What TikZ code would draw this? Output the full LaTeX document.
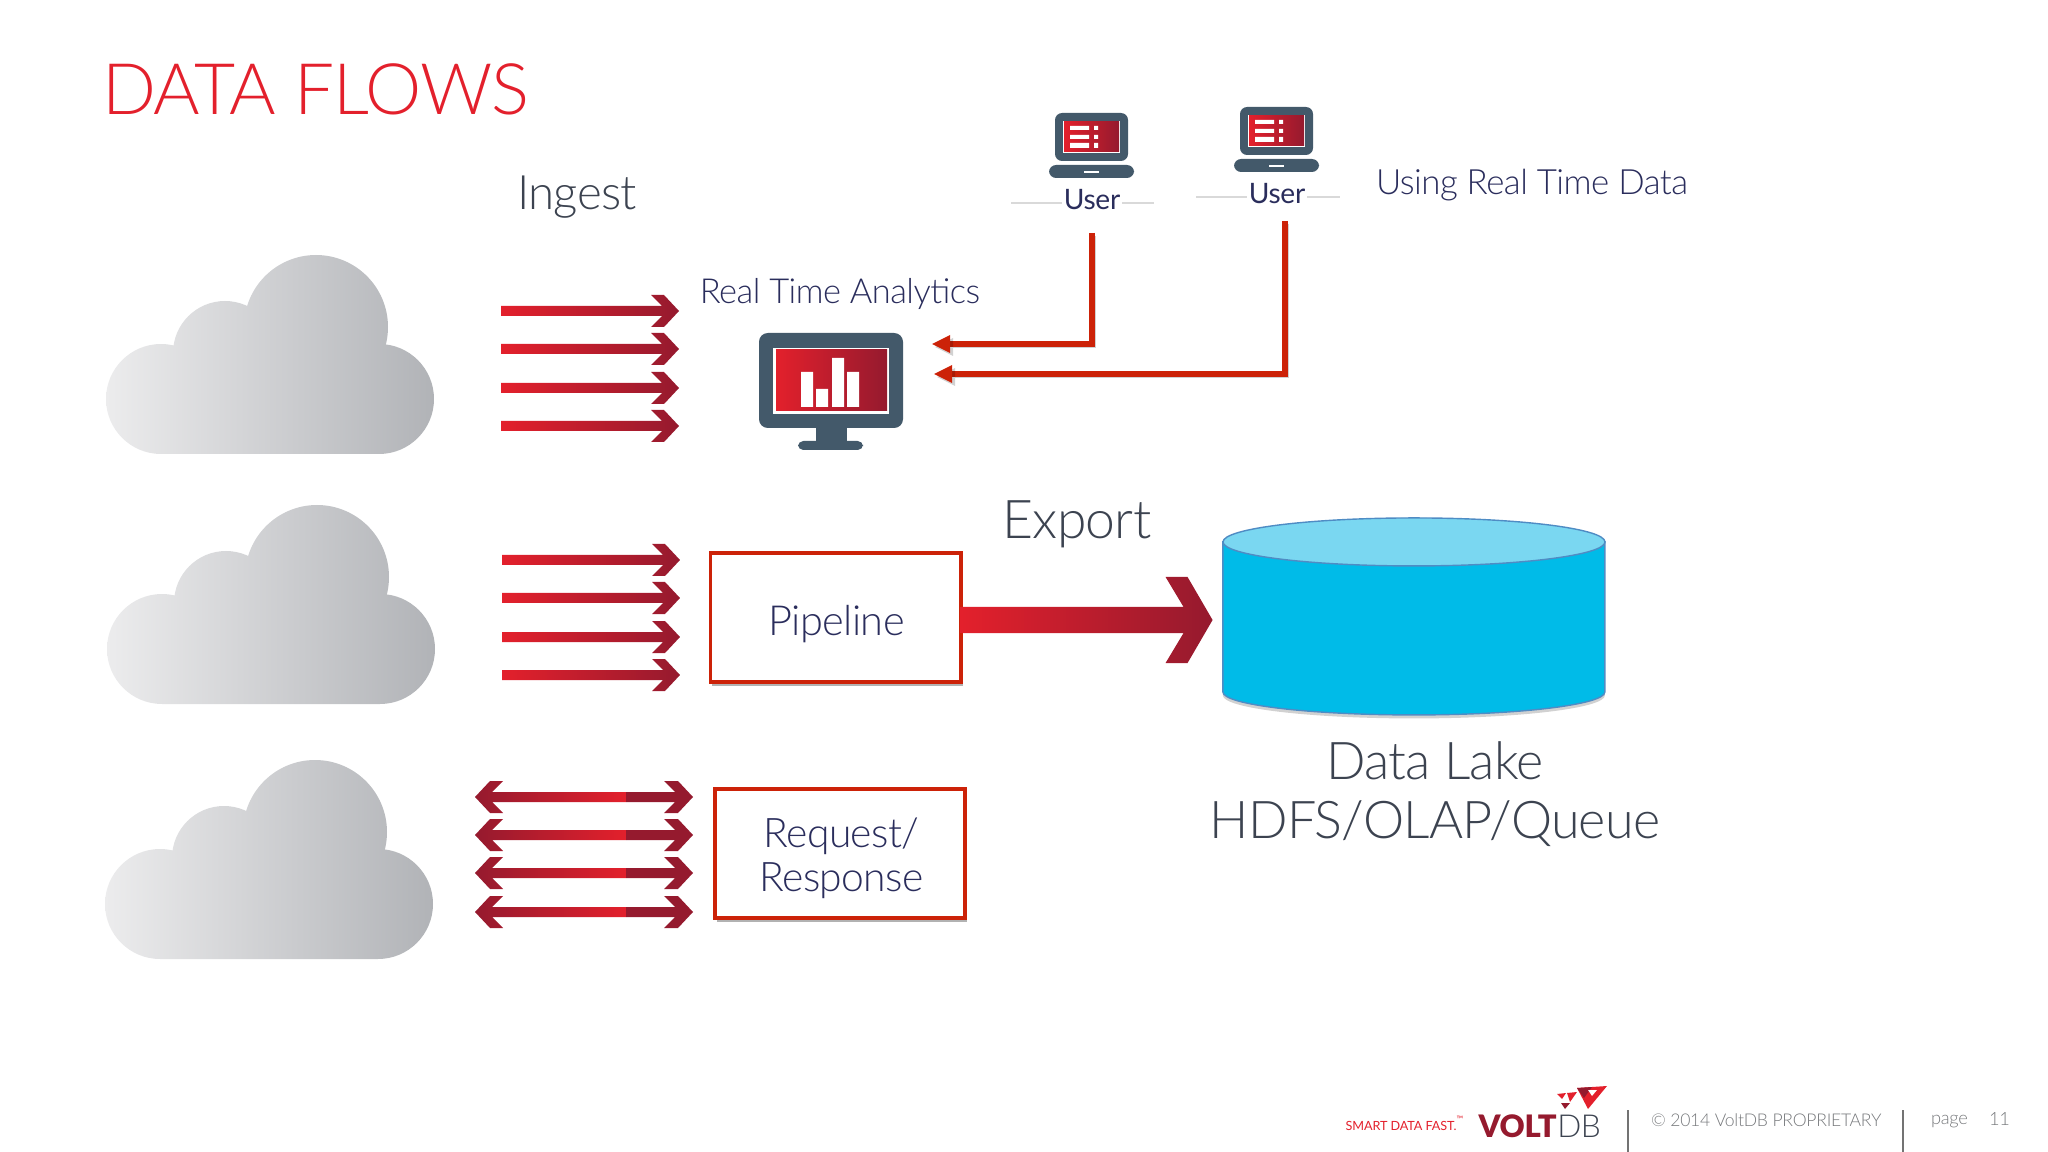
\documentclass[tikz,border=0pt]{standalone}
\usepackage{fontspec}
\setmainfont{Lato}[LetterSpace=-1.0]
\newfontfamily\latolight{Lato Light}[LetterSpace=-1.5]
\newfontfamily\latoblack{Lato Black}[LetterSpace=-1.0]
\usetikzlibrary{positioning, calc, shadows}
\definecolor{voltred}{HTML}{E3202C}
\definecolor{voltdark}{HTML}{951A2E}
\definecolor{boxred}{HTML}{CC2208}
\definecolor{slate}{HTML}{43596A}
\definecolor{navy}{HTML}{2A2D5C}
\definecolor{inkgray}{HTML}{3C4350}
\definecolor{footgray}{HTML}{77797C}
\definecolor{cloudl}{HTML}{ECECED}
\definecolor{cloudm}{HTML}{C8CBD0}
\definecolor{cloudr}{HTML}{B1B3B7}
\definecolor{lakebody}{HTML}{00BBE8}
\definecolor{laketop}{HTML}{7AD7F1}
\definecolor{lakeedge}{HTML}{4F8CC4}
\tikzset{
  px/.style={font=\latolight\fontsize{#1}{#1}\selectfont, text=navy, inner sep=0pt, outer sep=0pt},
  redbox/.style={draw=boxred, line width=1.1pt, fill=white, inner sep=0pt, align=center,
    drop shadow={shadow xshift=0.02cm, shadow yshift=-0.04cm, opacity=.3, fill=black}},
  userline/.style={draw=boxred, line width=1.5pt, preaction={draw=black, opacity=.18, transform canvas={xshift=0.03cm, yshift=-0.03cm}}},
  usertip/.style={fill=boxred, draw=none, preaction={fill=black, opacity=.18, transform canvas={xshift=0.03cm, yshift=-0.03cm}}},
  usertext/.style={font=\fontsize{8}{8}\selectfont, text=navy, fill=white, inner sep=0.5pt, anchor=base},
  cloudy/.pic={
    \shade[left color=cloudl, middle color=cloudm, right color=cloudr]
      (55,144) circle[radius=55] (273,144) circle[radius=55] (210,72) circle[radius=72] (119,98) circle[radius=52]
      (55,144) -- (119,98) -- (210,72) -- (273,144) -- (273,199) -- (55,199) -- cycle;
  },
  fwd/.pic={
    \shade[left color=voltred, right color=voltdark]
      (0,-5) -- (161,-5) -- (150,-16) -- (163,-16) -- (178,0) -- (163,16) -- (150,16) -- (161,5) -- (0,5) -- cycle;
  },
  both/.pic={
    \shade[left color=voltdark, right color=voltred]
      (0,0) -- (15,-16) -- (28,-16) -- (17,-5) -- (151,-5) -- (151,5) -- (17,5) -- (28,16) -- (15,16) -- cycle;
    \fill[voltdark] (151,-5) -- (200,-5) -- (189,-16) -- (203,-16) -- (218,0) -- (203,16) -- (189,16) -- (200,5) -- (151,5) -- cycle;
  },
  laptop/.pic={
    \fill[slate, rounded corners=2pt] (-37,-39) rectangle (36,9);
    \fill[white] (-29,-31) rectangle (28,1);
    \shade[left color=voltred, right color=voltdark] (-28,-30) rectangle (27,0);
    \fill[white] (-22,-26) rectangle (-3,-22) (2,-26) rectangle (6,-22);
    \fill[white] (-22,-17) rectangle (-3,-13) (2,-17) rectangle (6,-13);
    \fill[white] (-22,-9) rectangle (-3,-4) (2,-9) rectangle (6,-4);
    \fill[slate, rounded corners=2pt] (-43,13) rectangle (42,26);
    \fill[white] (-8,19) rectangle (7,21);
  },
}
\begin{document}
\begin{tikzpicture}[x=0.01cm, y=-0.01cm]
\useasboundingbox (0,0) rectangle (2048,1152);
\node[px=20.2, text=voltred, anchor=base west] (title) at (102,115) {DATA FLOWS};
\node[px=13.5, text=inkgray, anchor=base] (ingest) at (577,210) {Ingest};
\node[px=9.8, anchor=base] (analytics) at (840,304) {Real Time Analytics};
\node[px=9.9, anchor=base west] (using) at (1376,195) {Using Real Time Data};
\node[px=15.2, text=inkgray, anchor=base] (export) at (1077,538) {Export};
% clouds
\pic (cloud one) at (106,255) {cloudy};
\pic (cloud two) at (107,505) {cloudy};
\pic (cloud three) at (105,760) {cloudy};
% ingest
\pic at (501,311) {fwd};
\pic at (501,349) {fwd};
\pic at (501,388) {fwd};
\pic at (501,426) {fwd};
\pic at (502,560) {fwd};
\pic at (502,598) {fwd};
\pic at (502,637) {fwd};
\pic at (502,675) {fwd};
\pic at (475,797) {both};
\pic at (475,835) {both};
\pic at (475,873) {both};
\pic at (475,912) {both};
% monitor
\fill[slate, rounded corners=2.5pt] (759,333) rectangle (903,428);
\fill[slate] (816,428) rectangle (847,443);
\fill[slate, rounded corners=1.5pt] (798,441) rectangle (863,450);
\fill[white] (773,348) rectangle (889,414);
\shade[left color=voltred, right color=voltdark] (776,350) rectangle (887,411);
\fill[white] (801,372) rectangle (813,407) (816,389) rectangle (828,407) (832,358) rectangle (844,407) (847,372) rectangle (859,407);
\coordinate (screen a) at (950,344);
\coordinate (screen b) at (952,374);
% users
\pic at (1092,152) {laptop};
\pic at (1277,146) {laptop};
\draw[black!15, line width=0.3pt] (1011,203) -- (1154,203) (1196,197) -- (1340,197);
\node[usertext] (user one) at (1092,210) {User};
\node[usertext] (user two) at (1277,204) {User};
\coordinate (drop one) at (1092,233);
\coordinate (drop two) at (1285,221);
\draw[userline] (drop one) -- (drop one |- screen a) -- (screen a);
\draw[userline] (drop two) -- (drop two |- screen b) -- (screen b);
\fill[usertip] (screen a) ++(0,-9) -- ++(-18,9) -- ++(18,9) -- cycle;
\fill[usertip] (screen b) ++(0,-9) -- ++(-18,9) -- ++(18,9) -- cycle;
% pipeline
\node[redbox, px=11.8, minimum width=2.5cm, minimum height=1.29cm] (pipeline) at (835.5,617.5) {\raisebox{-0.07cm}[\height][\depth]{\hspace{0.02cm}Pipeline}};
\node[redbox, px=11.6, minimum width=2.5cm, minimum height=1.29cm, text width=2.4cm] (reqresp) at (840,853.5) {\rule{0pt}{0.39cm}\hspace{0.03cm}Request/\\[1pt]\hspace{0.03cm}Response};
% lake
\node[minimum width=3.82cm, minimum height=1.98cm, inner sep=0pt, outer sep=0pt] (lake) at (1414,617) {};
\path[draw=lakeedge, fill=lakebody, line width=0.4pt, drop shadow={shadow xshift=0cm, shadow yshift=-0.035cm, opacity=.18, fill=black}]
  (lake.north west) ++(0,24) -- ++(0,150) arc[start angle=180, end angle=0, x radius=191, y radius=23] -- ++(0,-150) -- cycle;
\path[draw=lakeedge, fill=laketop, line width=0.4pt] (lake.north) ++(0,24) circle[x radius=191, y radius=24];
\shade[left color=voltred, right color=voltdark] (pipeline.east) ++(0,-10.5) -- ++(223,0) -- ++(-18,-30) -- ++(22,0) -- ++(25,43) -- ++(-25,43) -- ++(-22,0) -- ++(18,-30) -- ++(-223,0) -- cycle;
\node[px=14.8, text=inkgray, align=center, anchor=north] (lake label) at (1435,742) {Data Lake\\[2pt]HDFS/OLAP/Queue};
% footer
\node[font=\fontsize{3.6}{3.6}\selectfont, text=voltred, anchor=base west, inner sep=0pt] (slogan) at (1345,1130) {SMART DATA FAST.\textsuperscript{™}};
\node[font=\latoblack\fontsize{8.8}{8.8}\selectfont, text=voltdark, anchor=base west, inner sep=0pt] (volt) at (1478,1137) {VOLT};
\node[px=9, text=inkgray, right=0pt of volt.base east, anchor=base west] (db) {DB};
\fill[voltred] (1577,1088) -- (1607,1086) -- (1588,1109) -- cycle;
\fill[voltdark] (1577,1088) -- (1592,1087) -- (1584,1098) -- cycle;
\fill[white] (1588,1090) -- (1597,1090) -- (1592,1096) -- cycle;
\fill[voltred] (1567,1093) -- (1577,1092) -- (1570,1102) -- cycle;
\fill[voltred] (1557,1094) -- (1566,1093) -- (1562,1099) -- cycle;
\fill[voltdark] (1561,1103) -- (1570,1103) -- (1565,1109) -- cycle;
\node[px=5, text=footgray, anchor=base west] (copy) at (1651,1126) {© 2014 VoltDB PROPRIETARY};
\node[px=5.2, text=footgray, anchor=base west] (page) at (1931,1124) {page};
\node[px=5.2, text=footgray, anchor=base west] (pagenum) at (1989,1125) {11};
\draw[black!55, line width=0.3pt] (1628,1110) -- (1628,1152) (1903,1110) -- (1903,1152);
\end{tikzpicture}
\end{document}
